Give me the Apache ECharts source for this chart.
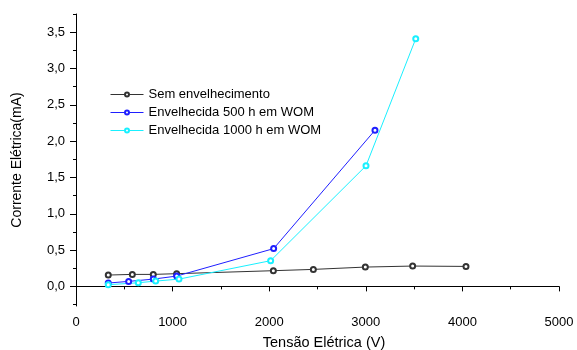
<!DOCTYPE html>
<html>
<head>
<meta charset="utf-8">
<script src="https://cdn.jsdelivr.net/npm/echarts@6/dist/echarts.min.js"></script>
<style>
  html, body { margin: 0; padding: 0; background: #fff; }
  #chart { width: 577px; height: 350px; }
</style>
</head>
<body>
<div id="chart"></div>
<script>
// Tensão (V) x Corrente (mA)
const semX = [334, 583, 800, 1042, 2043, 2457, 2995, 3485, 4037];
const semY = [0.156, 0.165, 0.165, 0.175, 0.216, 0.234, 0.266, 0.28, 0.275];

const env500X = [334, 545, 800, 1042, 2046, 3095];
const env500Y = [0.046, 0.069, 0.10, 0.142, 0.52, 2.15];

const env1000X = [334, 645, 825, 1066, 2015, 3002, 3517];
const env1000Y = [0.023, 0.05, 0.073, 0.10, 0.354, 1.66, 3.41];

const yMajor = [0, 0.5, 1, 1.5, 2, 2.5, 3, 3.5];
const yMinor = [-0.25, 0.25, 0.75, 1.25, 1.75, 2.25, 2.75, 3.25, 3.75];

const pairs = (xs, ys) => xs.map((x, i) => [x, ys[i]]);
const fmt = v => v.toFixed(1).replace('.', ',');

const font = 'Liberation Sans, Arial, sans-serif';

const chart = echarts.init(document.getElementById('chart'));

function lineSeries(name, color, data) {
  return {
    name: name,
    type: 'line',
    data: data,
    symbol: 'emptyCircle',
    symbolSize: 5,
    lineStyle: { color: color, width: 1 },
    itemStyle: { color: color, borderColor: color, borderWidth: 1 },
    animation: false
  };
}

chart.setOption({
  backgroundColor: '#fff',
  textStyle: { fontFamily: font },
  grid: { left: 76, right: 18, top: 14, bottom: 44, outerBoundsMode: 'none' },
  legend: {
    left: 105,
    top: 83,
    orient: 'vertical',
    itemGap: 5,
    itemWidth: 33,
    itemHeight: 5,
    lineStyle: { width: 1 },
    itemStyle: { borderWidth: 1 },
    textStyle: { fontFamily: font, fontSize: 13, color: '#000' },
    data: ['Sem envelhecimento', 'Envelhecida 500 h em WOM', 'Envelhecida 1000 h em WOM']
  },
  xAxis: {
    type: 'value',
    min: 0,
    max: 5000,
    interval: 1000,
    name: 'Tensão Elétrica (V)',
    nameLocation: 'middle',
    nameGap: 29,
    nameTextStyle: { fontFamily: font, fontSize: 14.5, color: '#000', padding: [0, 0, 0, 13] },
    axisLine: { lineStyle: { color: '#000', width: 1 } },
    axisTick: { inside: false, length: 5, lineStyle: { color: '#000' } },
    minorTick: { show: true, splitNumber: 2, length: 3, lineStyle: { color: '#000' } },
    axisLabel: { fontFamily: font, fontSize: 13, color: '#000', margin: 10, formatter: v => String(v) },
    splitLine: { show: false }
  },
  yAxis: [
    {
      type: 'value',
      min: -0.27,
      max: 3.75,
      name: 'Corrente Elétrica(mA)',
      nameLocation: 'middle',
      nameGap: 52,
      nameTextStyle: { fontFamily: font, fontSize: 14, color: '#000' },
      axisLine: { show: true, lineStyle: { color: '#000', width: 1 } },
      axisTick: { show: true, length: 6, customValues: yMajor, lineStyle: { color: '#000' } },
      axisLabel: { fontFamily: font, fontSize: 13, color: '#000', margin: 11, customValues: yMajor, formatter: fmt },
      splitLine: { show: false }
    },
    {
      type: 'value',
      min: -0.27,
      max: 3.75,
      position: 'left',
      axisLine: { show: false },
      axisTick: { show: true, length: 3, customValues: yMinor, lineStyle: { color: '#000' } },
      axisLabel: { show: false },
      splitLine: { show: false }
    }
  ],
  series: [
    lineSeries('Sem envelhecimento', '#333333', pairs(semX, semY)),
    lineSeries('Envelhecida 500 h em WOM', '#1f1fff', pairs(env500X, env500Y)),
    lineSeries('Envelhecida 1000 h em WOM', '#19f0ff', pairs(env1000X, env1000Y))
  ]
});
</script>
</body>
</html>
